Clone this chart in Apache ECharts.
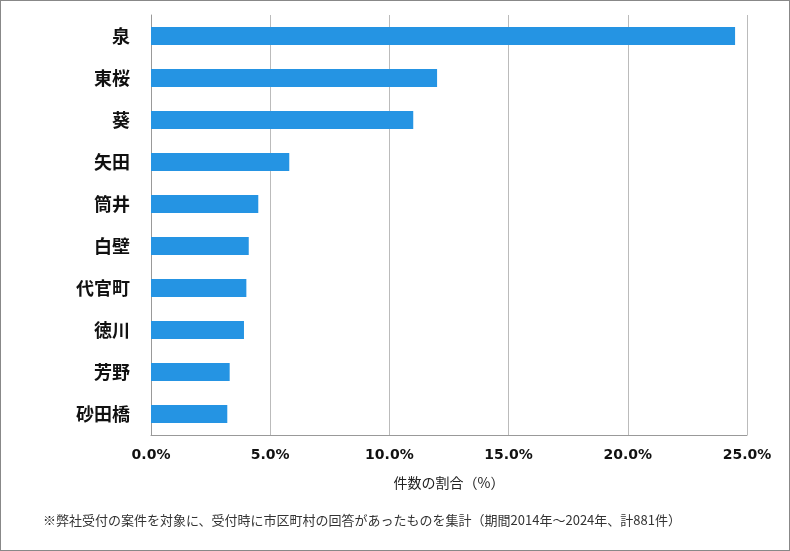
<!DOCTYPE html>
<html>
<head>
<meta charset="utf-8">
<script src="https://cdn.jsdelivr.net/npm/echarts@6/dist/echarts.min.js"></script>
<style>
  html, body { margin: 0; padding: 0; background: #fff; }
  #chart { width: 790px; height: 551px; box-sizing: border-box; border: 1px solid #888; }
</style>
</head>
<body>
<div id="chart"></div>
<script>
// 地区ごとの件数の割合（%）
var areas = ["泉", "東桜", "葵", "矢田", "筒井", "白壁", "代官町", "徳川", "芳野", "砂田橋"];
var shares = [24.5, 12.0, 11.0, 5.8, 4.5, 4.1, 4.0, 3.9, 3.3, 3.2];
var axisTitle = "件数の割合（%）";
var footnote = "※弊社受付の案件を対象に、受付時に市区町村の回答があったものを集計（期間2014年～2024年、計881件）";

var font = '"Noto Sans CJK JP", sans-serif';
var numFont = '"DejaVu Sans", sans-serif';

var option = {
  animation: false,
  textStyle: { fontFamily: font },
  grid: {
    left: 150,
    right: 42,
    top: 14,
    bottom: 115
  },
  xAxis: {
    type: "value",
    min: 0,
    max: 25,
    interval: 5,
    name: axisTitle,
    nameLocation: "middle",
    nameGap: 41,
    nameTextStyle: { fontSize: 14, color: "#222", fontFamily: font },
    axisLine: { show: true, lineStyle: { color: "#999" } },
    axisTick: { show: false },
    axisLabel: {
      margin: 13,
      fontSize: 14,
      fontWeight: "bold",
      color: "#111",
      fontFamily: numFont,
      formatter: function (v) { return v.toFixed(1) + "%"; }
    },
    splitLine: { show: true, lineStyle: { color: "#bbb" } }
  },
  yAxis: {
    type: "category",
    inverse: true,
    data: areas,
    axisLine: { show: true, lineStyle: { color: "#999" } },
    axisTick: { show: false },
    axisLabel: {
      margin: 21,
      fontSize: 18,
      fontWeight: "bold",
      color: "#111",
      fontFamily: font
    }
  },
  series: [
    {
      type: "bar",
      data: shares,
      barWidth: 18,
      itemStyle: { color: "#2594e3" }
    }
  ],
  graphic: [
    {
      type: "text",
      left: 42,
      top: 513,
      style: {
        text: footnote,
        fontSize: 13,
        fill: "#333",
        fontFamily: font
      }
    }
  ]
};

var myChart = echarts.init(document.getElementById("chart"));
myChart.setOption(option);
</script>
</body>
</html>
